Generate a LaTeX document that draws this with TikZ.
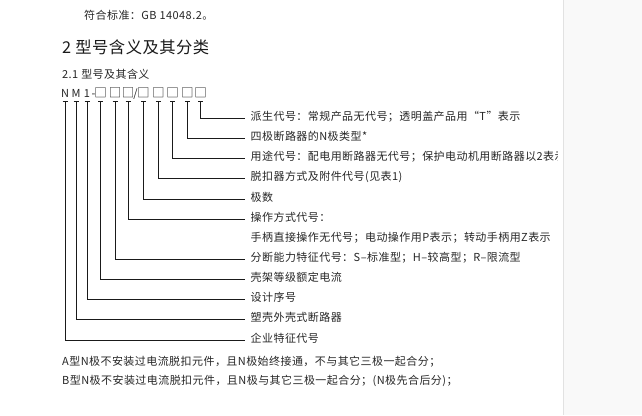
\documentclass[tikz,border=0pt]{standalone}
\usepackage{fontspec}
\setmainfont{Noto Sans CJK SC}
\newfontfamily\bodyfont[LetterSpace=4]{Noto Sans CJK SC}
\newfontfamily\titlefont[LetterSpace=3]{Noto Sans CJK SC}
\definecolor{tcol}{HTML}{262626}
\definecolor{lcol}{HTML}{1A1A1A}
\definecolor{pagegray}{HTML}{F9F9F9}
\definecolor{edgegray}{HTML}{E2E2E2}
\begin{document}
\begin{tikzpicture}[x=1pt,y=-1pt,
  txt/.style={inner sep=0pt, anchor=west, text=tcol, font=\bodyfont\fontsize{11}{13}\selectfont},
  code/.style={inner sep=0pt, anchor=base, text=tcol, font=\bodyfont\fontsize{11}{13}\selectfont, text height=8pt, text depth=0pt},
  boxc/.style={code, font=\bodyfont\fontsize{12.5}{14}\selectfont},
  desc/.style={inner sep=0pt, anchor=west, text height=6pt, text depth=2pt, text=tcol, font=\bodyfont\fontsize{11}{13}\selectfont},
  lead/.style={draw=lcol, line width=0.9pt},
  tick/.style={draw=lcol, line width=0.9pt},
]
\useasboundingbox (0,0) rectangle (642,415);
\fill[white] (0,0) rectangle (563,415);
\fill[pagegray] (563,0) rectangle (642,415);
\draw[edgegray, line width=1pt] (563.5,0) -- (563.5,415);
\begin{scope}
\clip (0,0) rectangle (557,415);
\node[txt] (hdr) at (84,15) {符合标准：GB 14048.2。};
\node[inner sep=0pt, anchor=west, text=lcol, font=\titlefont\fontsize{16.3}{19}\selectfont] (title) at (62,47) {2 型号含义及其分类};
\node[txt] (sub) at (62,74) {2.1 型号及其含义};
% code characters
\node[code] (c1) at (65,97) {N};
\node[code] (c2) at (76,97) {M};
\node[code] (c3) at (87,97) {1};
\node[code] (dash) at (93.5,97) {-};
\node[boxc] (c4) at (100.7,97) {□};
\node[boxc] (c5) at (115,97) {□};
\node[boxc] (c6) at (128,97) {□};
\node[code] (slash) at (135.5,97) {/};
\node[boxc] (c7) at (143.3,97) {□};
\node[boxc] (c8) at (158.3,97) {□};
\node[boxc] (c9) at (172.7,97) {□};
\node[boxc] (c10) at (187.3,97) {□};
\node[boxc] (c11) at (200.7,97) {□};
% descriptions
\node[desc] (d1) at (250.5,118) {派生代号：常规产品无代号；透明盖产品用“T”表示};
\node[desc] (d2) at (250.5,138) {四极断路器的N极类型*};
\node[desc] (d3) at (250.5,158) {用途代号：配电用断路器无代号；保护电动机用断路器以2表示};
\node[desc] (d4) at (250.5,178) {脱扣器方式及附件代号(见表1)};
\node[desc] (d5) at (250.5,199) {极数};
\node[desc] (d6) at (250.5,219) {操作方式代号：};
\node[desc] (d7) at (250.5,239) {手柄直接操作无代号；电动操作用P表示；转动手柄用Z表示};
\node[desc] (d8) at (250.5,259) {分断能力特征代号：S–标准型；H–较高型；R–限流型};
\node[desc] (d9) at (250.5,279) {壳架等级额定电流};
\node[desc] (d10) at (250.5,299) {设计序号};
\node[desc] (d11) at (250.5,319) {塑壳外壳式断路器};
\node[desc] (d12) at (250.5,340) {企业特征代号};
% footnotes
\node[txt] (na) at (62,362) {A型N极不安装过电流脱扣元件，且N极始终接通，不与其它三极一起合分；};
\node[txt] (nb) at (62,381) {B型N极不安装过电流脱扣元件，且N极与其它三极一起合分；(N极先合后分)；};
\end{scope}
% leaders
\foreach \c/\d in {c11/d1,c10/d2,c9/d3,c8/d4,c7/d5,c6/d6,c5/d8,c4/d9,c3/d10,c2/d11,c1/d12}{
  \draw[tick] ([xshift=-2.5pt,yshift=-4pt]\c.south) -- ([xshift=2.5pt,yshift=-4pt]\c.south);
  \draw[lead, shorten >=5.5pt] ([yshift=-4pt]\c.south) |- (\d.west);
}
\end{tikzpicture}
\end{document}
